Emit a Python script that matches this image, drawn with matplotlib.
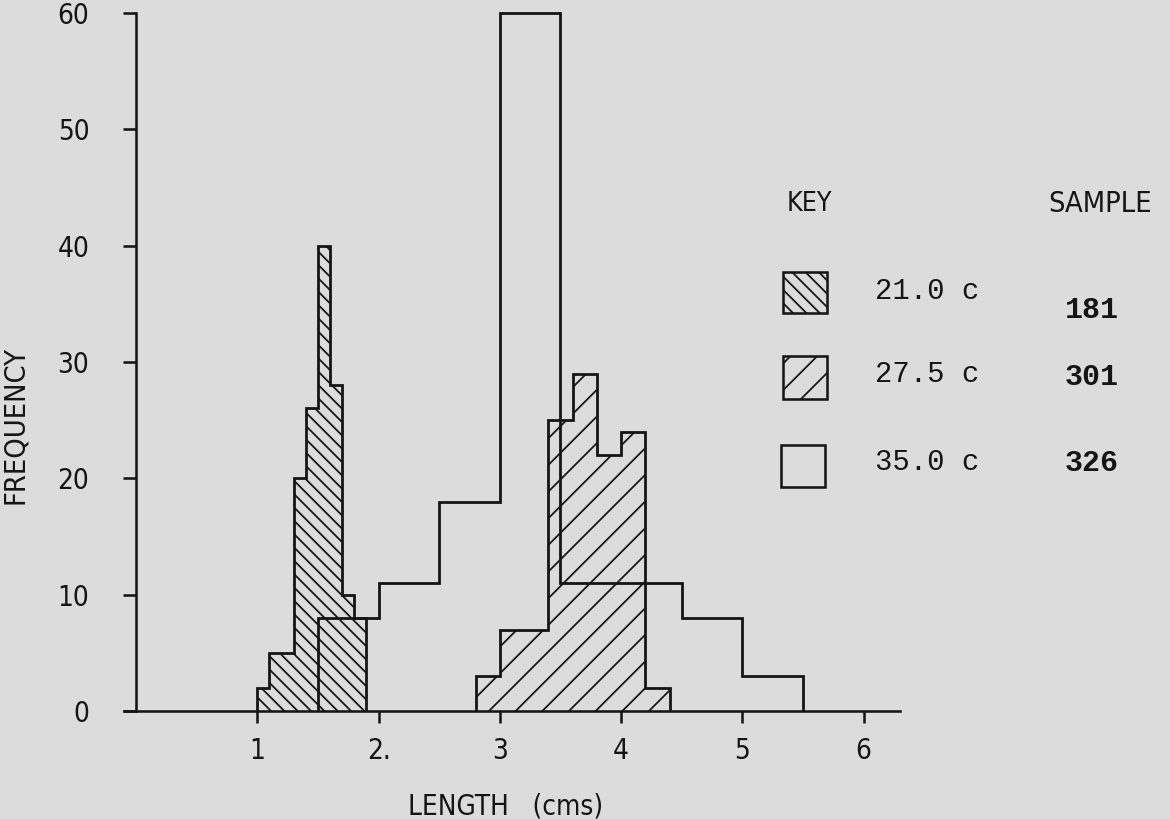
import matplotlib
matplotlib.use('Agg')
import matplotlib.pyplot as plt
from matplotlib.patches import Rectangle

# ---- data ----
edges_210 = [1.0, 1.1, 1.3, 1.4, 1.5, 1.6, 1.7, 1.8, 1.9]
freq_210 = [2, 5, 20, 26, 40, 28, 10, 8]
edges_275 = [2.8, 3.0, 3.4, 3.6, 3.8, 4.0, 4.2, 4.4]
freq_275 = [3, 7, 25, 29, 22, 24, 2]
edges_350 = [1.5, 2.0, 2.5, 3.0, 3.5, 4.5, 5.0, 5.5]
freq_350 = [8, 11, 18, 60, 11, 8, 3]

x_ticks = [1, 2, 3, 4, 5, 6]
x_tick_labels = ['1', '2.', '3', '4', '5', '6']
y_ticks = [0, 10, 20, 30, 40, 50, 60]
y_tick_labels = ['0', '10', '20', '30', '40', '50', '60']
key_labels = ['21.0 c', '27.5 c', '35.0 c']
sample_sizes = ['181', '301', '326']

# ---- style ----
BG = '#dcdcdc'
INK = '#151515'
COND = dict(fontfamily='DejaVu Sans', fontstretch='condensed')
MONO = ['Liberation Mono', 'DejaVu Sans Mono']
plt.rcParams['hatch.linewidth'] = 1.6
plt.rcParams['hatch.color'] = INK

DPI = 80
fig = plt.figure(figsize=(1170 / DPI, 819 / DPI), dpi=DPI)
fig.patch.set_facecolor(BG)

# main axes (pixel layout converted to fractions)
ax = fig.add_axes([75.3 / 1170, (819 - 722.6) / 819, 849 / 1170, 721.3 / 819])
ax.set_facecolor('none')
ax.set_xlim(-0.5, 6.5)
ax.set_ylim(-1, 61)

lw = 2.5
ax.stairs(freq_350, edges_350, fill=True, facecolor='none', edgecolor=INK,
          linewidth=lw, baseline=0)
ax.stairs(freq_210, edges_210, fill=True, facecolor='none', edgecolor=INK,
          hatch='\\\\', linewidth=lw, baseline=0)
ax.stairs(freq_275, edges_275, fill=True, facecolor='none', edgecolor=INK,
          hatch='/', linewidth=lw, baseline=0)

for s in ['top', 'right']:
    ax.spines[s].set_visible(False)
ax.spines['left'].set_position(('data', 0))
ax.spines['bottom'].set_position(('data', 0))
ax.spines['left'].set_bounds(0, 60)
ax.spines['bottom'].set_bounds(-0.1, 6.3)
for s in ['left', 'bottom']:
    ax.spines[s].set_linewidth(2.3)
    ax.spines[s].set_color(INK)

ax.set_xticks(x_ticks)
ax.set_xticklabels(x_tick_labels, fontsize=25, color=INK, **COND)
ax.set_yticks(y_ticks)
ax.set_yticklabels(y_tick_labels, fontsize=25, color=INK, **COND)
ax.tick_params(axis='x', direction='out', length=11, width=2.3, color=INK, pad=12)
ax.tick_params(axis='y', direction='out', length=12, width=2.3, color=INK, pad=30)

ax.set_xlabel('LENGTH   (cms)', fontsize=25, color=INK, **COND)
ax.xaxis.set_label_coords(0.507, -0.097)
ax.set_ylabel('FREQUENCY', fontsize=26, color=INK, **COND)
ax.yaxis.set_label_coords(-0.054, 0.4126)

# overlay in pixel coordinates for the key
ov = fig.add_axes([0, 0, 1, 1])
ov.set_xlim(0, 1170)
ov.set_ylim(819, 0)
ov.axis('off')

ov.text(787, 204, 'KEY', fontsize=24, color=INK, ha='left', va='center', **COND)
ov.text(1100, 204, 'SAMPLE', fontsize=26, color=INK, ha='center', va='center', **COND)

box_x = [783, 783, 781]
box_y = [272, 356, 445]
box_h = [41, 43, 42]
box_hatch = ['\\\\', '/', None]
text_y = [291, 374, 462]
samp_y = [310, 377, 463]
for i in range(3):
    ov.add_patch(Rectangle((box_x[i], box_y[i]), 44, box_h[i], fill=False,
                           hatch=box_hatch[i], edgecolor=INK, linewidth=2.3))
    ov.text(875, text_y[i], key_labels[i], fontfamily=MONO, fontsize=26,
            color=INK, ha='left', va='center')
    ov.text(1092, samp_y[i], sample_sizes[i], fontfamily=MONO, fontsize=27,
            fontweight='bold', color=INK, ha='center', va='center')

fig.savefig('out.png', dpi=DPI, facecolor=BG)
